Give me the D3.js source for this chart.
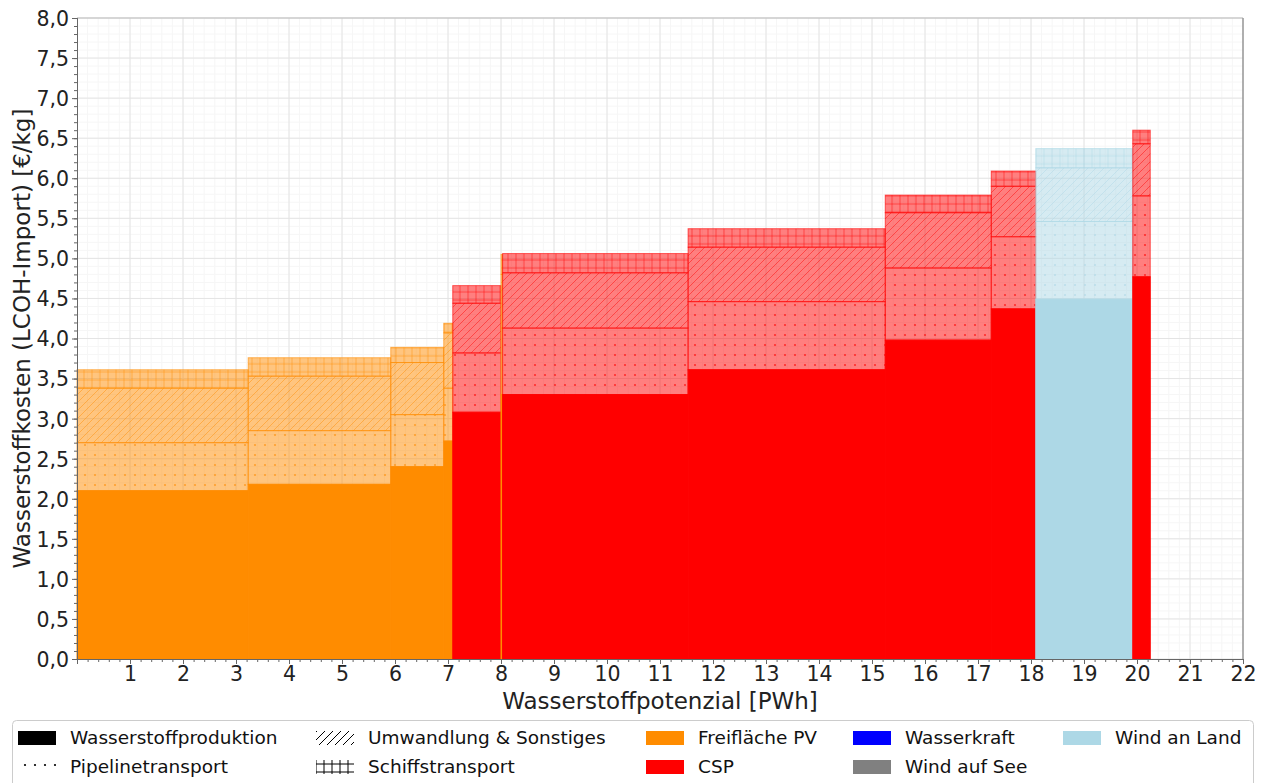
<!DOCTYPE html>
<html><head><meta charset="utf-8">
<script src="https://cdn.jsdelivr.net/npm/d3@7"></script>
<style>
body{margin:0;background:#fff;}
svg{font-family:"DejaVu Sans",sans-serif;}
</style></head>
<body>
<svg id="c" width="1265" height="783"></svg>
<script>
// ---- data ----
const widths      = [3.23, 2.69, 1.00, 0.17, 0.91, 0.03, 3.50, 3.72, 2.00, 0.84, 1.83, 0.33];
const technology  = ["Freifläche PV","Freifläche PV","Freifläche PV","Freifläche PV","CSP","Freifläche PV","CSP","CSP","CSP","CSP","Wind an Land","CSP"];
const produktion  = [2.10, 2.18, 2.40, 2.72, 3.08, 3.30, 3.30, 3.61, 3.98, 4.37, 4.49, 4.77];
const pipeline    = [0.60, 0.67, 0.65, 0.66, 0.74, 0.83, 0.83, 0.85, 0.90, 0.90, 0.97, 1.01];
const umwandlung  = [0.68, 0.68, 0.65, 0.69, 0.62, 0.67, 0.69, 0.68, 0.69, 0.63, 0.67, 0.65];
const schiff      = [0.23, 0.23, 0.19, 0.12, 0.22, 0.25, 0.24, 0.23, 0.22, 0.19, 0.24, 0.17];
const xTicks = d3.range(1, 23);
const yTicks = d3.range(0, 8.01, 0.5);
const costLegend = ["Wasserstoffproduktion","Pipelinetransport","Umwandlung & Sonstiges","Schiffstransport"];
const techLegend = ["Freifläche PV","CSP","Wasserkraft","Wind auf See","Wind an Land"];
const techColors = {"Freifläche PV":"#ff8c00","CSP":"#ff0000","Wasserkraft":"#0000ff","Wind auf See":"#808080","Wind an Land":"#add8e6"};

// ---- layout ----
const svg = d3.select("#c");
const L = 77, R = 1243, T = 18, B = 659;
const x = d3.scaleLinear().domain([0, 22]).range([L, R]);
const y = d3.scaleLinear().domain([0, 8]).range([B, T]);
const fmt = d => d3.format(".1f")(d).replace(".", ",");

// patterns
const defs = svg.append("defs");
function makePatterns(key, color, op) {
  const pd = defs.append("pattern").attr("id", "dot-" + key).attr("patternUnits", "userSpaceOnUse")
    .attr("width", 10).attr("height", 10);
  pd.append("circle").attr("cx", 5).attr("cy", 5).attr("r", 1.1).attr("fill", color).attr("fill-opacity", op + 0.2);
  const ph = defs.append("pattern").attr("id", "diag-" + key).attr("patternUnits", "userSpaceOnUse")
    .attr("width", 8).attr("height", 8);
  ph.append("path").attr("d", "M0,8 L8,0 M-2,2 L2,-2 M6,10 L10,6").attr("stroke", color)
    .attr("stroke-opacity", op).attr("stroke-width", 1);
  const pp = defs.append("pattern").attr("id", "plus-" + key).attr("patternUnits", "userSpaceOnUse")
    .attr("width", 8).attr("height", 8);
  pp.append("path").attr("d", "M0,4 H8 M4,0 V8").attr("stroke", color)
    .attr("stroke-opacity", op).attr("stroke-width", 1);
}
Object.keys(techColors).forEach((k, i) => makePatterns("t" + i, techColors[k], 0.45));
makePatterns("k", "#000", 1);
const techKey = t => "t" + Object.keys(techColors).indexOf(t);

// grid
const g = svg.append("g");
g.selectAll(".gxm").data(d3.range(0.2, 22, 0.2)).join("line")
  .attr("x1", d => x(d)).attr("x2", d => x(d)).attr("y1", T).attr("y2", B)
  .attr("stroke", "#f6f6f6").attr("stroke-width", 1);
g.selectAll(".gym").data(d3.range(0.1, 8, 0.1)).join("line")
  .attr("y1", d => y(d)).attr("y2", d => y(d)).attr("x1", L).attr("x2", R)
  .attr("stroke", "#f6f6f6").attr("stroke-width", 1);
g.selectAll(".gx").data(xTicks).join("line")
  .attr("x1", d => x(d)).attr("x2", d => x(d)).attr("y1", T).attr("y2", B)
  .attr("stroke", "#e4e4e4").attr("stroke-width", 1);
g.selectAll(".gy").data(yTicks).join("line")
  .attr("y1", d => y(d)).attr("y2", d => y(d)).attr("x1", L).attr("x2", R)
  .attr("stroke", "#e4e4e4").attr("stroke-width", 1);

// bars
const starts = [];
widths.reduce((acc, w) => { starts.push(acc); return acc + w; }, 0);
const bars = svg.append("g");
widths.forEach((w, i) => {
  const col = techColors[technology[i]];
  const k = techKey(technology[i]);
  const x0 = x(starts[i]), x1 = x(starts[i] + w);
  const segs = [
    {lo: 0, hi: produktion[i], type: "solid"},
    {lo: produktion[i], hi: produktion[i] + pipeline[i], type: "dot"},
    {lo: produktion[i] + pipeline[i], hi: produktion[i] + pipeline[i] + umwandlung[i], type: "diag"},
    {lo: produktion[i] + pipeline[i] + umwandlung[i], hi: produktion[i] + pipeline[i] + umwandlung[i] + schiff[i], type: "plus"}
  ];
  segs.forEach(s => {
    const ry = y(s.hi), rh = y(s.lo) - y(s.hi);
    if (s.type === "solid") {
      bars.append("rect").attr("x", x0).attr("y", ry).attr("width", x1 - x0).attr("height", rh)
        .attr("fill", col).attr("stroke", col).attr("stroke-width", 1);
    } else {
      bars.append("rect").attr("x", x0).attr("y", ry).attr("width", x1 - x0).attr("height", rh)
        .attr("fill", col).attr("fill-opacity", 0.5);
      bars.append("rect").attr("x", x0).attr("y", ry).attr("width", x1 - x0).attr("height", rh)
        .attr("fill", `url(#${s.type}-${k})`).attr("stroke", col).attr("stroke-opacity", 0.6).attr("stroke-width", 1);
    }
  });
});

// spines
svg.append("line").attr("x1", L).attr("x2", R).attr("y1", T).attr("y2", T).attr("stroke", "#bbb");
svg.append("line").attr("x1", R).attr("x2", R).attr("y1", T).attr("y2", B).attr("stroke", "#999").attr("stroke-width", 1.5);

// axes
const xAxis = svg.append("g").attr("transform", `translate(0,${B})`);
xAxis.call(d3.axisBottom(x).tickValues(d3.range(0.2, 22.01, 0.2)).tickSize(3).tickFormat(""));
const xMaj = svg.append("g").attr("transform", `translate(0,${B})`)
  .call(d3.axisBottom(x).tickValues(xTicks).tickSize(5).tickPadding(2).tickFormat(d3.format("d")));
const yAxisMin = svg.append("g").attr("transform", `translate(${L},0)`)
  .call(d3.axisLeft(y).tickValues(d3.range(0, 8.01, 0.1)).tickSize(3).tickFormat(""));
const yMaj = svg.append("g").attr("transform", `translate(${L},0)`)
  .call(d3.axisLeft(y).tickValues(yTicks).tickSize(5).tickPadding(3).tickFormat(fmt));
[xAxis, xMaj, yAxisMin, yMaj].forEach(a => {
  a.selectAll(".domain").attr("stroke", "#666");
  a.selectAll(".tick line").attr("stroke", "#666");
  a.selectAll("text").attr("font-family", "DejaVu Sans").attr("font-size", 20.5).attr("fill", "#222");
});
yMaj.selectAll("text").attr("dy", "0.36em");

// axis titles
svg.append("text").attr("x", (L + R) / 2).attr("y", 709).attr("text-anchor", "middle")
  .attr("font-size", 23).attr("fill", "#222").text("Wasserstoffpotenzial [PWh]");
svg.append("text").attr("transform", `translate(30,${(T + B) / 2}) rotate(-90)`).attr("text-anchor", "middle")
  .attr("font-size", 23).attr("fill", "#222").text("Wasserstoffkosten (LCOH-Import) [€/kg]");

// legend
const lg = svg.append("g");
lg.append("rect").attr("x", 12.5).attr("y", 720.5).attr("width", 1241).attr("height", 80)
  .attr("rx", 4).attr("fill", "#fff").attr("stroke", "#ccc");
const items = [
  {label: costLegend[0], fill: "#000", col: 0, row: 0},
  {label: costLegend[1], fill: "url(#dot-k)", col: 0, row: 1},
  {label: costLegend[2], fill: "url(#diag-k)", col: 1, row: 0},
  {label: costLegend[3], fill: "url(#plus-k)", col: 1, row: 1},
  {label: techLegend[0], fill: techColors[techLegend[0]], col: 2, row: 0},
  {label: techLegend[1], fill: techColors[techLegend[1]], col: 2, row: 1},
  {label: techLegend[2], fill: techColors[techLegend[2]], col: 3, row: 0},
  {label: techLegend[3], fill: techColors[techLegend[3]], col: 3, row: 1},
  {label: techLegend[4], fill: techColors[techLegend[4]], col: 4, row: 0}
];
const colX = [18, 316, 646, 853, 1063];
items.forEach(it => {
  const px = colX[it.col], cy = 738 + it.row * 29;
  lg.append("rect").attr("x", px).attr("y", cy - 7).attr("width", 38).attr("height", 14).attr("fill", it.fill);
  lg.append("text").attr("x", px + 52).attr("y", cy).attr("dy", "0.35em")
    .attr("font-size", 18.5).attr("fill", "#111").text(it.label);
});
</script>
</body></html>
